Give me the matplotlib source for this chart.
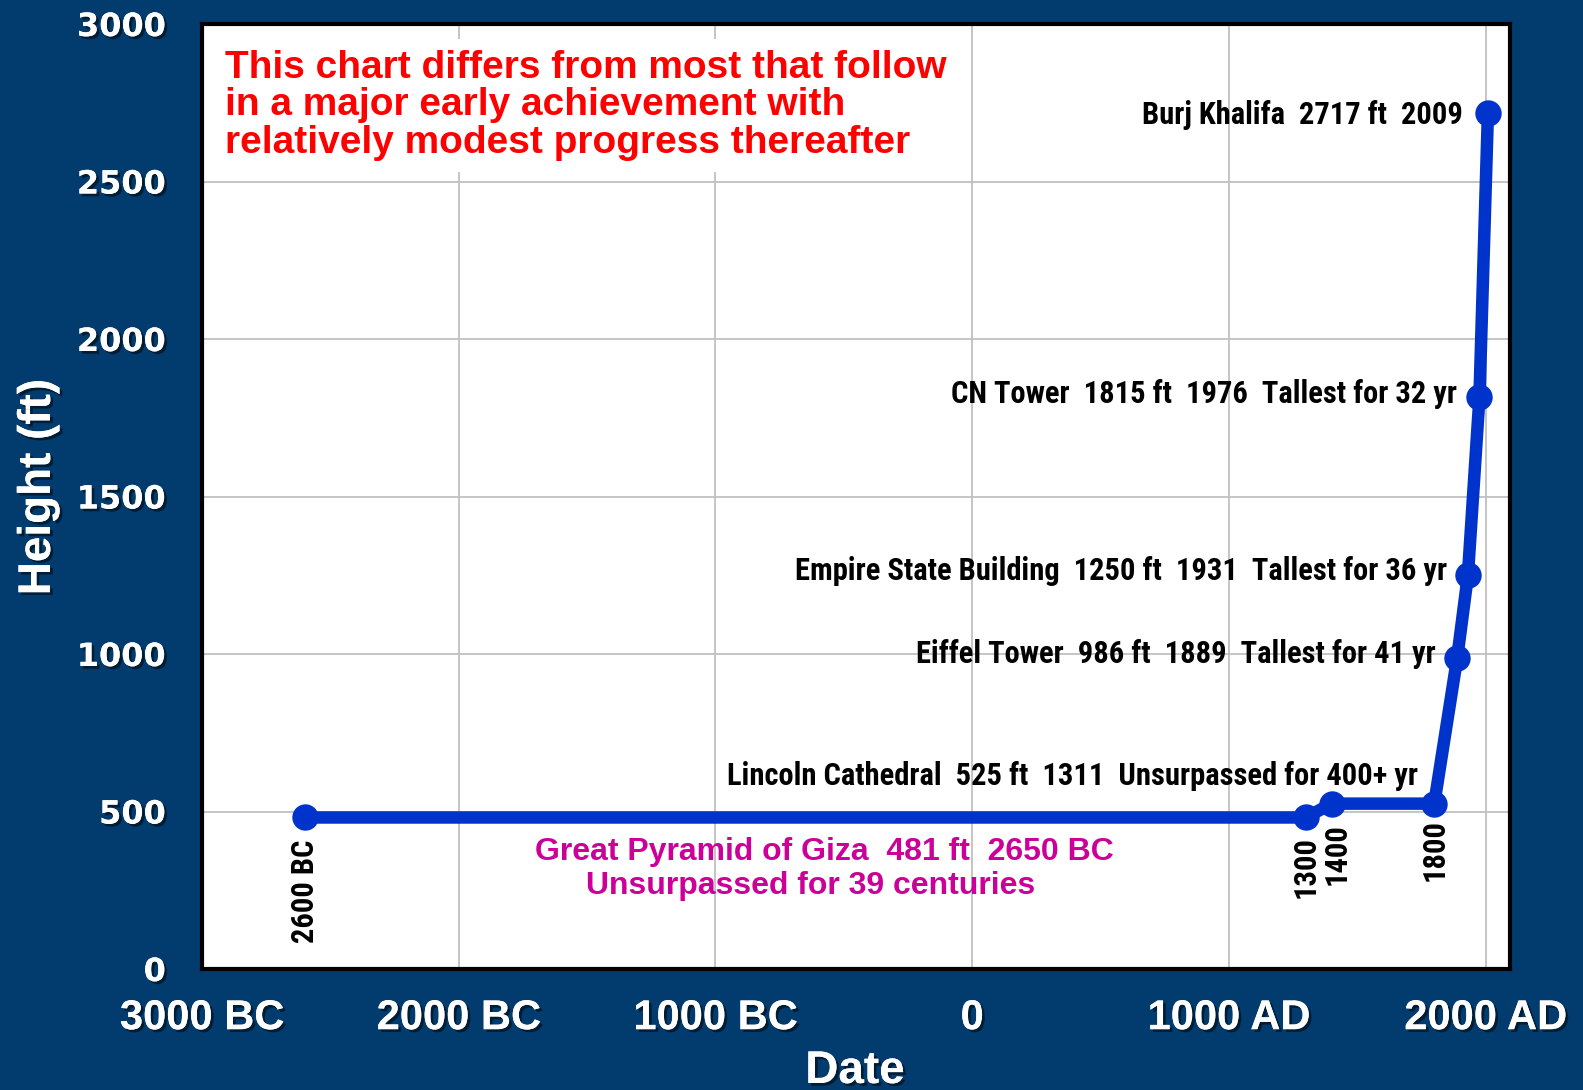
import matplotlib.pyplot as plt
import matplotlib.patheffects as pe

# tallest structure over time
years   = [-2600, 1300, 1400, 1800, 1889, 1931, 1976, 2009]
heights = [481, 481, 525, 525, 986, 1250, 1815, 2717]

x_ticks  = [-3000, -2000, -1000, 0, 1000, 2000]
x_labels = ["3000 BC", "2000 BC", "1000 BC", "0", "1000 AD", "2000 AD"]
y_ticks  = [0, 500, 1000, 1500, 2000, 2500, 3000]

# (text, index of point, offset in pixels)
labels = [
    ("Burj Khalifa  2717 ft  2009", 7, (-25, -2)),
    ("CN Tower  1815 ft  1976  Tallest for 32 yr", 6, (-22, 3)),
    ("Empire State Building  1250 ft  1931  Tallest for 36 yr", 5, (-21, 4)),
    ("Eiffel Tower  986 ft  1889  Tallest for 41 yr", 4, (-21, 4)),
    ("Lincoln Cathedral  525 ft  1311  Unsurpassed for 400+ yr", 3, (-16, 28)),
]
year_marks = [("2600 BC", -2600, 410), ("1300", 1300, 422), ("1400", 1420, 463), ("1800", 1800, 475)]

bg = "#023C6E"
narrow = ["Roboto Condensed", "Liberation Sans"]
shadow = [pe.withSimplePatchShadow(offset=(2, -2), shadow_rgbFace="black", alpha=0.5), pe.Normal()]

fig = plt.figure(figsize=(15.83, 10.9), dpi=100, facecolor=bg)
ax = fig.add_axes([202/1583, 1 - 969/1090, (1510-202)/1583, (969-24)/1090])
ax.set_facecolor("white")

ax.plot(years, heights, color="#0033CC", lw=9, marker="o", ms=18, solid_joinstyle="round", zorder=3)

ax.set_xlim(-3000, 2095)
ax.set_ylim(0, 3000)
ax.set_xticks(x_ticks)
ax.set_xticklabels(x_labels)
ax.set_yticks(y_ticks)
ax.grid(color="#C0C0C0", lw=1.3)
ax.tick_params(length=0)
ax.tick_params(axis="x", pad=21, labelsize=30, labelcolor="white")
ax.tick_params(axis="y", pad=26, labelsize=23, labelcolor="white")
for t in ax.get_xticklabels():
    t.set_fontfamily("Liberation Sans")
    t.set_fontweight("bold")
    t.set_path_effects(shadow)
for t in ax.get_yticklabels():
    t.set_fontfamily("DejaVu Sans")
    t.set_fontweight("bold")
    t.set_path_effects(shadow)
for s in ax.spines.values():
    s.set_linewidth(3)
    s.set_color("black")

fig.text(38/1583, 1 - 487/1090, "Height (ft)", rotation=90, ha="center", va="center",
         color="white", fontsize=33, fontweight="bold", family="Liberation Sans", path_effects=shadow)
fig.text(855/1583, 1 - 1071/1090, "Date", ha="center", va="center",
         color="white", fontsize=33, fontweight="bold", family="Liberation Sans", path_effects=shadow)

for text, i, off in labels:
    ax.annotate(text, (years[i], heights[i]), xytext=off, textcoords="offset pixels",
                ha="right", va="center", fontsize=22, fontweight="bold", family=narrow, zorder=4)

for text, x, y in year_marks:
    ax.text(x, y, text, rotation=90, ha="center", va="top", fontsize=22,
            fontweight="bold", family=narrow)

ax.text(-577, 372, "Great Pyramid of Giza  481 ft  2650 BC",
        ha="center", va="center", color="#CC0099", fontsize=23, fontweight="bold",
        family="Liberation Sans")
ax.text(-628, 264, "Unsurpassed for 39 centuries",
        ha="center", va="center", color="#CC0099", fontsize=23, fontweight="bold",
        family="Liberation Sans")

ax.text(-2910, 2918, "This chart differs from most that follow\nin a major early achievement with\nrelatively modest progress thereafter",
        ha="left", va="top", color="#FF0000", fontsize=28, fontweight="bold", family="Liberation Sans",
        linespacing=1.05, zorder=4,
        bbox=dict(facecolor="white", edgecolor="none", pad=8))

fig.savefig("out.png", dpi=100, facecolor=bg)
